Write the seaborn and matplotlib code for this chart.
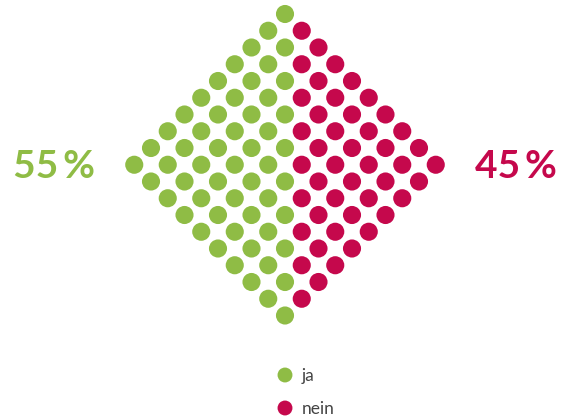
import matplotlib
matplotlib.use("Agg")
import matplotlib.pyplot as plt
import seaborn as sns
import pandas as pd

# data
categories = ["ja", "nein"]
values = [55, 45]
colors = ["#8fbc45", "#c5084c"]
pct_labels = ["55\u2009%", "45\u2009%"]

sns.set_theme(style="white")
plt.rcParams["font.family"] = ["Lato", "DejaVu Sans"]

# diamond lattice of 100 dots, filled column by column from the left
half = 9
cells = []
for j in range(-half, half + 1):
    for i in range(0, 2 * half + 1):
        if (i + j) % 2 == 0 and abs(j) + abs(i - half) <= half:
            cells.append((j, i))
cells.sort()
labels = []
for cat, v in zip(categories, values):
    labels += [cat] * v
dots = pd.DataFrame(cells[:len(labels)], columns=["col", "row"])
dots["answer"] = labels
step = 16.75
dots["x"] = 285 + dots["col"] * step
dots["y"] = 14 + dots["row"] * step

fig = plt.figure(figsize=(5.7, 4.2), dpi=100)
ax = fig.add_axes([0, 0, 1, 1])
palette = dict(zip(categories, colors))
sns.scatterplot(data=dots, x="x", y="y", hue="answer", palette=palette,
                s=170, linewidth=0, legend=False, ax=ax)

# big percentage labels
ax.text(54, 166, pct_labels[0], color=colors[0], fontsize=28, fontweight="bold",
        ha="center", va="center")
ax.text(516, 166, pct_labels[1], color=colors[1], fontsize=28, fontweight="bold",
        ha="center", va="center")

# legend
leg = pd.DataFrame({"answer": categories, "x": [285, 285], "y": [375, 408]})
sns.scatterplot(data=leg, x="x", y="y", hue="answer", palette=palette,
                s=115, linewidth=0, legend=False, ax=ax)
for _, r in leg.iterrows():
    ax.text(r["x"] + 17, r["y"] + 1, r["answer"], color="#444444", fontsize=12.5,
            ha="left", va="center")

ax.set_xlim(0, 570)
ax.set_ylim(420, 0)
ax.axis("off")
fig.savefig("out.png", dpi=100)
